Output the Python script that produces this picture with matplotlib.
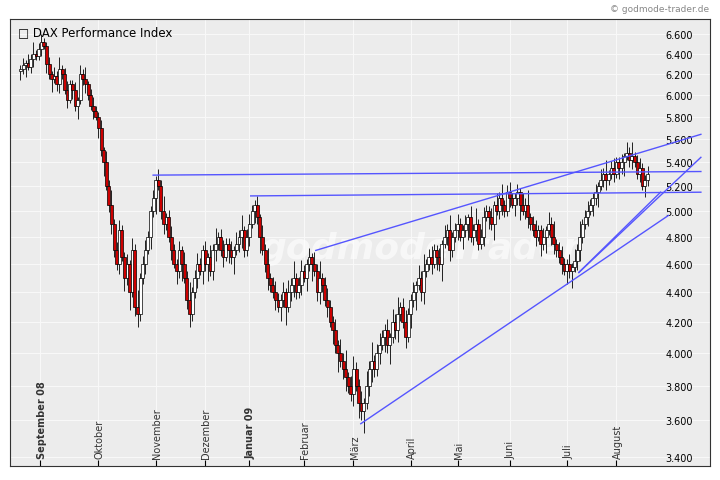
import matplotlib
matplotlib.use('Agg')
import matplotlib.pyplot as plt
from matplotlib.ticker import FixedLocator, NullLocator

# Tagesschlusskurse (geschaetzt aus dem Bild), Ende Aug 2008 bis Aug 2009
CLOSES = [
    6250, 6290, 6310, 6270, 6350, 6400, 6380, 6450, 6520, 6480, 6300, 6200, 6150, 6180, 6100,
    6250, 6200, 6050, 5950, 6100, 6050, 5900, 5950, 6200, 6150, 6100, 6000, 5900, 5850, 5800,
    5700, 5500, 5400, 5200, 5050, 4900, 4700, 4600, 4850, 4650, 4500, 4600, 4400, 4700, 4300,
    4250, 4500, 4600, 4700, 4800, 5000, 5100, 5250,
    5200, 5000, 4900, 4950, 4800, 4700, 4600, 4550, 4700, 4600, 4500, 4350, 4250, 4400, 4500,
    4600, 4550, 4700, 4600,
    4650, 4550, 4700, 4750, 4800, 4700, 4650, 4750, 4700, 4650, 4700, 4750, 4800, 4850, 4700,
    4800, 4900, 5000,
    5050, 4950, 4800, 4700, 4600, 4500, 4450, 4400, 4350, 4300, 4350, 4400, 4300, 4400, 4450,
    4500, 4400, 4450, 4550, 4500, 4600,
    4650, 4600, 4550, 4400, 4500, 4450, 4350, 4300, 4200, 4150, 4050, 4000, 3950, 3900, 3850,
    3800, 3750, 3900, 3800, 3700,
    3650, 3700, 3800, 3900, 3950, 3900, 4000, 4050, 4100, 4150, 4050, 4100, 4200, 4150, 4250,
    4300, 4200, 4100, 4250, 4350, 4400,
    4450, 4500, 4400, 4550, 4600, 4650, 4600, 4700, 4650, 4600, 4750, 4800, 4850, 4700, 4800,
    4850, 4900, 4800, 4850,
    4900, 4950, 4800, 4850, 4900, 4750, 4800, 4950, 5000, 4950, 4900, 5050, 5000, 5100, 5050,
    5000, 5150, 5100, 5050,
    5100, 5150, 5050, 5000, 5050, 4950, 4900, 4850, 4800, 4850, 4750, 4800, 4850, 4900, 4800,
    4750, 4700, 4650, 4600, 4550, 4600,
    4550, 4580, 4620, 4700, 4800, 4900, 4950, 5000, 5050, 5100, 5150, 5200, 5250, 5300, 5250,
    5300, 5350, 5300, 5400, 5350,
    5400, 5450, 5480, 5420, 5450, 5400, 5300, 5350, 5200, 5250, 5300,
]
WICKS = [40, 70, 30, 90, 50, 120, 35, 60, 80, 45]

MONTH_POS = [7.7, 30, 52, 71, 88, 109, 128, 150, 168, 188, 210, 229]
MONTH_LABELS = ["September 08", "Oktober", "November", "Dezember", "Januar 09", "Februar",
                "März", "April", "Mai", "Juni", "Juli", "August"]
YTICKS = [3400 + 200 * i for i in range(17)]

# Trendlinien: (tag0, wert0, tag1, wert1)
TRENDLINES = [
    (51, 5290, 261.5, 5320),
    (88.5, 5120, 261.5, 5150),
    (113.5, 4700, 261.5, 5640),
    (130.8, 3580, 249, 4965),
    (214.6, 4540, 261.5, 5440),
    (214.6, 4540, 246, 5150),
]

fig = plt.figure(figsize=(7.2, 4.81), dpi=100)
ax = fig.add_axes([10/720, 14/481, 700/720, 447/481])
ax.set_facecolor("#ececec")
ax.set_yscale("log")
ax.set_ylim(3350, 6760)
ax.set_xlim(-4, 265)

for y in YTICKS:
    ax.axhline(y, color="#f8f8f8", lw=0.8, zorder=0)
for x in MONTH_POS:
    ax.axvline(x, color="#f8f8f8", lw=0.8, zorder=0)

prev = CLOSES[0] - 20
for i, c in enumerate(CLOSES):
    o = prev
    w = WICKS[i % len(WICKS)]
    hi = max(o, c) + w
    lo = min(o, c) - WICKS[(i + 3) % len(WICKS)]
    ax.vlines(i, lo, hi, color="black", lw=0.6, zorder=2)
    col = "white" if c >= o else "#cc0000"
    ax.bar(i, abs(c - o) if c != o else 8, bottom=min(o, c), width=1.15,
           color=col, edgecolor="black", lw=0.5, zorder=3)
    prev = c

for x0, y0, x1, y1 in TRENDLINES:
    ax.plot([x0, x1], [y0, y1], color="#5555ff", lw=1.0, zorder=4)

ax.yaxis.set_major_locator(FixedLocator(YTICKS))
ax.yaxis.set_minor_locator(NullLocator())
ax.set_yticklabels([f"{v/1000:.3f}" for v in YTICKS])
ax.yaxis.tick_right()
ax.tick_params(axis="y", direction="in", pad=-32, labelsize=7, length=0)
for lbl in ax.get_yticklabels():
    lbl.set_horizontalalignment("left")
ax.set_xticks(MONTH_POS)
ax.set_xticklabels([])
ax.tick_params(axis="x", direction="in", length=4)

for x, lab in zip(MONTH_POS, MONTH_LABELS):
    bold = lab.endswith("08") or lab.endswith("09")
    ax.text(x + 0.5, 3390, lab, rotation=90, fontsize=7, va="bottom", ha="center",
            fontweight="bold" if bold else "normal", color="#333333")

ax.text(92, 4720, "godmodeTrader", fontsize=26, color="white", alpha=0.6,
        fontweight="bold", fontstyle="italic", ha="left", va="center", zorder=1)

ax.text(0.012, 0.985, "\u25a1 DAX Performance Index", transform=ax.transAxes,
        fontsize=8.5, va="top", ha="left")
fig.text(0.985, 0.99, "© godmode-trader.de", fontsize=6.5, color="#888888",
         ha="right", va="top")

for s in ax.spines.values():
    s.set_color("#333333")

fig.savefig("out.png", dpi=100)
